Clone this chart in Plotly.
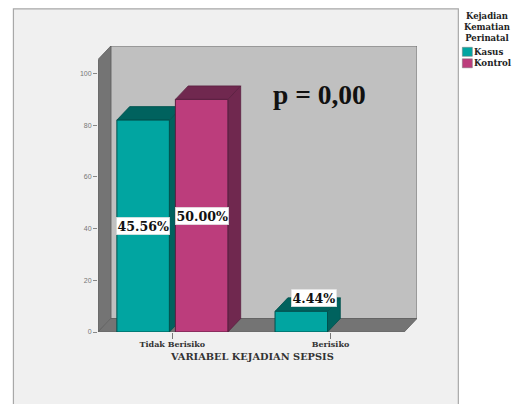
import plotly.graph_objects as go

# Data: patient counts per sepsis category, split by perinatal death status
categories = ["Tidak Berisiko", "Berisiko"]
kasus = [82, 8]
kontrol = [90, None]
total = 180
y_ticks = [0, 20, 40, 60, 80, 100]

W, H = 517, 404
L, R, T, B = 98.0, 416.7, 45.7, 332.0
PX_PER_CAT = 158.0
PX_PER_UNIT = 2.587
X0_PX = 172.3
x_range = [(L - X0_PX) / PX_PER_CAT, (R - X0_PX) / PX_PER_CAT]
y_range = [0, (B - T) / PX_PER_UNIT]

BARGAP = 0.26
GROUPGAP = 0.103
slot = (1 - BARGAP) / 2
bar_w = slot * (1 - GROUPGAP)
DX = 12.8 / PX_PER_CAT      # depth of the 3D extrusion, in axis units
DY = 13.5 / PX_PER_UNIT

SERIF = "Liberation Serif, serif"
WIDE_SERIF = "DejaVu Serif, serif"
TEAL, TEAL_DK, TEAL_LN = "#01a5a1", "#00625e", "#00504d"
PINK, PINK_DK, PINK_LN = "#bc3d7c", "#70284f", "#5a1f40"
WALL, FLOOR, EDGE = "#c0c0c0", "#747474", "#5f5f5f"


def px(x):
    return (x - L) / (R - L)


def py(y):
    return (B - y) / (B - T)


def poly(points, fill, line=EDGE, refs=("x", "y"), width=0.8):
    d = "M" + " L".join(f"{a},{b}" for a, b in points) + " Z"
    return dict(type="path", path=d, xref=refs[0], yref=refs[1], layer="below",
                fillcolor=fill, line=dict(color=line, width=width))


def note(x, y, text, family, size, xanchor="center", color="#222222"):
    return dict(x=px(x), y=py(y), xref="paper", yref="paper", showarrow=False,
                xanchor=xanchor, yanchor="middle", text=text, align="center",
                font=dict(family=family, size=size, color=color))


shapes = [
    # outer chart panel, open at the bottom of the page
    dict(type="rect", xref="paper", yref="paper", layer="below",
         x0=px(13.5), x1=px(458), y0=py(410), y1=py(8.5),
         fillcolor="#f0f0f0", line=dict(color="#a8a8a8", width=1.2)),
]

# Back wall, left wall and floor of the 3D box
x_front_l, x_front_r = x_range[0], x_range[1] - DX
y_top = y_range[1]
shapes += [
    poly([(x_front_l + DX, DY), (x_range[1], DY), (x_range[1], y_top), (x_front_l + DX, y_top)], WALL),
    poly([(x_front_l, 0), (x_front_l + DX, DY), (x_front_l + DX, y_top), (x_front_l, y_top - DY)], FLOOR),
    poly([(x_front_l, 0), (x_front_r, 0), (x_range[1], DY), (x_front_l + DX, DY)], FLOOR),
]


def extrude(x_center, value, dark, line):
    a, b = x_center - bar_w / 2, x_center + bar_w / 2
    return [
        poly([(b, 0), (b + DX, DY), (b + DX, value + DY), (b, value)], dark, line),
        poly([(a, value), (a + DX, value + DY), (b + DX, value + DY), (b, value)], dark, line),
    ]


annotations = []
series = [("Kasus", kasus, -slot / 2, TEAL, TEAL_DK, TEAL_LN),
          ("Kontrol", kontrol, slot / 2, PINK, PINK_DK, PINK_LN)]

fig = go.Figure()
for name, values, offset, color, dark, line in series:
    fig.add_trace(go.Bar(x=list(range(len(categories))), y=values, name=name,
                         marker=dict(color=color, line=dict(color=line, width=1)),
                         showlegend=False, hoverinfo="skip"))
    for i, v in enumerate(values):
        if v is None:
            continue
        xc = i + offset
        shapes += extrude(xc, v, dark, line)
        tall = v > 20
        annotations.append(dict(
            x=xc if tall else xc + DX, y=v / 2 if tall else v + DY,
            xref="x", yref="y", showarrow=False, text=f"<b>{v / total * 100:.2f}%</b>",
            font=dict(family=WIDE_SERIF, size=12.6, color="#111111"),
            bgcolor="white", bordercolor="#d8d8d8", borderwidth=0.5, borderpad=1))

# Significance note and axis caption
annotations.append(note(319, 94, "<b>p = 0,00</b>", SERIF, 27.5, color="#111111"))
annotations.append(note(252, 356.5, "<b>VARIABEL KEJADIAN SEPSIS</b>", WIDE_SERIF, 9.8, color="#333333"))

# Legend block to the right of the panel
annotations.append(note(487, 27, "<b>Kejadian<br>Kematian<br>Perinatal</b>", WIDE_SERIF, 8.5))
for (name, _, _, color, _, _), y_px in zip(series, (51.5, 63)):
    shapes.append(dict(type="rect", xref="paper", yref="paper", layer="below",
                       x0=px(462), x1=px(472), y0=py(y_px + 4.5), y1=py(y_px - 4.5),
                       fillcolor=color, line=dict(color="#777777", width=0.5)))
    annotations.append(note(471.5, y_px, f"<b>{name}</b>", WIDE_SERIF, 8.7, xanchor="left"))

fig.update_layout(
    width=W, height=H, autosize=False,
    margin=dict(l=L, r=W - R, t=T, b=H - B, pad=0),
    paper_bgcolor="white", plot_bgcolor="rgba(0,0,0,0)",
    barmode="group", bargap=BARGAP, bargroupgap=GROUPGAP,
    shapes=shapes, annotations=annotations,
    xaxis=dict(range=x_range, tickmode="array", tickvals=[0, 1], ticktext=[f"<b>{c}</b>" for c in categories],
               ticks="outside", ticklen=6, tickcolor="#777777", tickwidth=1, ticklabelstandoff=-2,
               tickfont=dict(family=WIDE_SERIF, size=8, color="#333333"),
               showgrid=False, zeroline=False, showline=False),
    yaxis=dict(range=y_range, tickmode="array", tickvals=y_ticks,
               ticks="outside", ticklen=4, tickcolor="#888888", tickwidth=1,
               tickfont=dict(family="Liberation Sans, sans-serif", size=7, color="#777777"),
               showgrid=False, zeroline=False, showline=False),
)

fig.write_html("out.html")
